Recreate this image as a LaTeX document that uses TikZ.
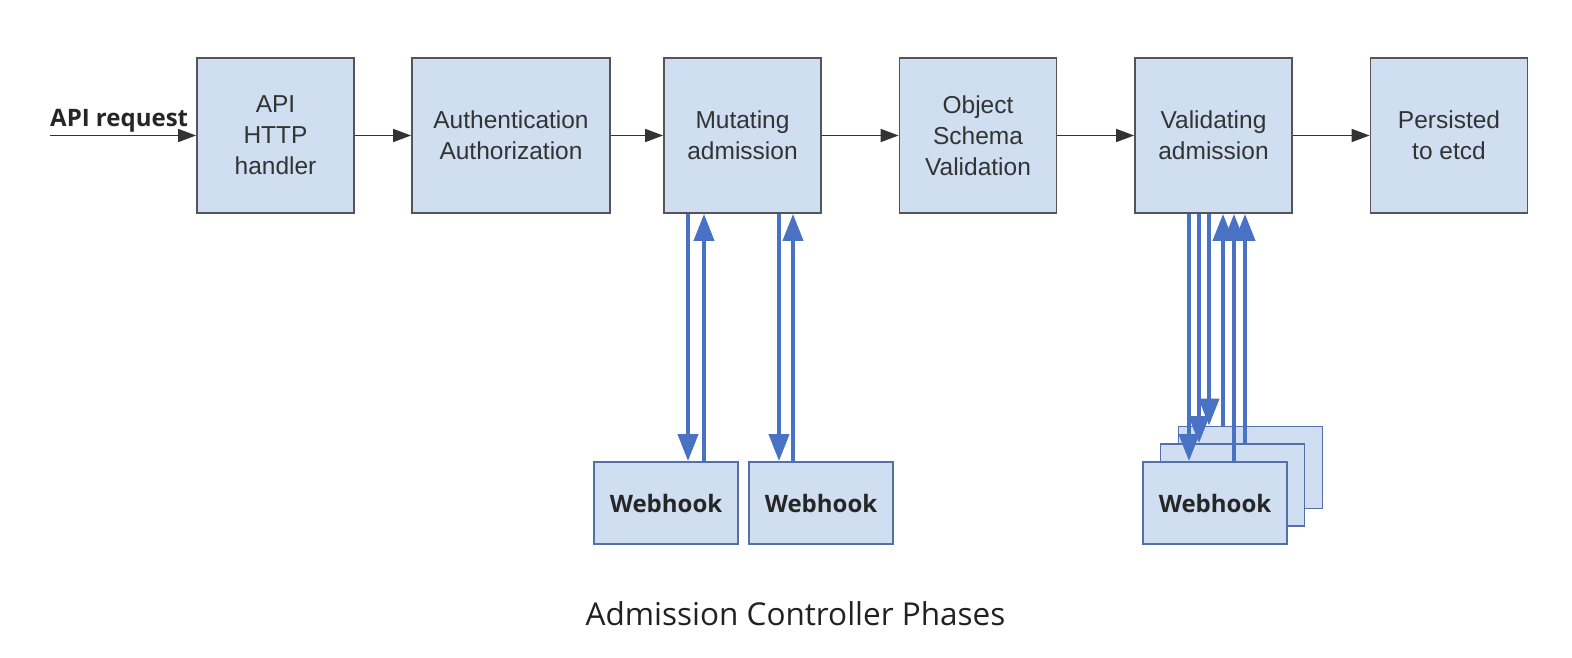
\documentclass[tikz,border=0pt]{standalone}
\usepackage{fontspec}
\setmainfont{Liberation Sans}
\newfontfamily\opensans{Open Sans}
\usepackage{xcolor}
\usetikzlibrary{positioning,arrows.meta}
\definecolor{boxfill}{HTML}{CFDFF1}
\definecolor{boxline}{HTML}{555555}
\definecolor{hookline}{HTML}{5470A8}
\definecolor{callblue}{HTML}{4A72C4}
\definecolor{boxtext}{HTML}{333333}

\begin{document}
\begin{tikzpicture}[x = 1pt, y = -1pt, node distance = 235.5pt, on grid,
	phase/.style={draw = boxline, fill = boxfill, line width = 1.8pt, minimum width = 157pt, minimum height = 155pt, inner sep = 0pt, align = center, text = boxtext, font = \fontsize{24.5}{31}\selectfont},
	hook/.style={draw = hookline, fill = boxfill, line width = 1.8pt, minimum width = 144pt, minimum height = 82pt, inner sep = 0pt, text = black!85, font = \opensans\bfseries\fontsize{24}{28}\selectfont},
	flow/.style={-{Triangle[length = 18pt, width = 13pt]}, line width = 1.6pt, draw = black!80},
	call/.style={-{Triangle[length = 27pt, width = 20pt]}, line width = 4pt, draw = callblue}]
	\useasboundingbox (0,0) rectangle (1572,658);

	\node[phase] (api) at (275.5,135.5) {API\\HTTP\\handler};
	\node[phase, right of = api, minimum width = 198pt] (auth) {Authentication\\Authorization};
	\node[phase, right of = auth, node distance = 231.5pt] (mut) {Mutating\\admission};
	\node[phase, right of = mut] (schema) {Object\\Schema\\Validation};
	\node[phase, right of = schema] (val) {Validating\\admission};
	\node[phase, right of = val] (etcd) {Persisted\\to etcd};

	\coordinate (req) at (50,135.5);
	\node[anchor = base west, inner sep = 0pt, text = black!85, font = \opensans\bfseries\fontsize{24}{28}\selectfont] (reqlabel) at (50,127) {API request};

	\node[hook] (mwh1) at (666,503) {Webhook};
	\node[hook, right of = mwh1, node distance = 155pt] (mwh2) {Webhook};

	\node[hook] (vwh3) at (1250.5,467.5) {};
	\node[hook] (vwh2) at (1232.5,485) {};
	\node[hook] (vwh1) at (1215,503) {Webhook};

	\draw[flow] (req) -- (api);
	\draw[flow] (api) -- (auth);
	\draw[flow] (auth) -- (mut);
	\draw[flow] (mut) -- (schema);
	\draw[flow] (schema) -- (val);
	\draw[flow] (val) -- (etcd);

	\foreach \src/\wh/\dx in {mut/mwh1/22, mut/mwh2/-42, val/vwh1/-26, val/vwh2/-33.5, val/vwh3/-41.5}{
		\coordinate (c) at ([xshift = \dx pt]\wh.north);
		\draw[call] (c |- \src.south) -- (c);
	}
	\foreach \src/\wh/\dx in {mut/mwh1/38, mut/mwh2/-28, val/vwh3/-27.5, val/vwh1/19, val/vwh2/12.5}{
		\coordinate (c) at ([xshift = \dx pt]\wh.north);
		\draw[call] (c) -- (c |- \src.south);
	}

	\node[anchor = base, text = black!87, font = \opensans\fontsize{31.5}{36}\selectfont] (caption) at (795.5,625) {Admission Controller Phases};
\end{tikzpicture}
\end{document}
